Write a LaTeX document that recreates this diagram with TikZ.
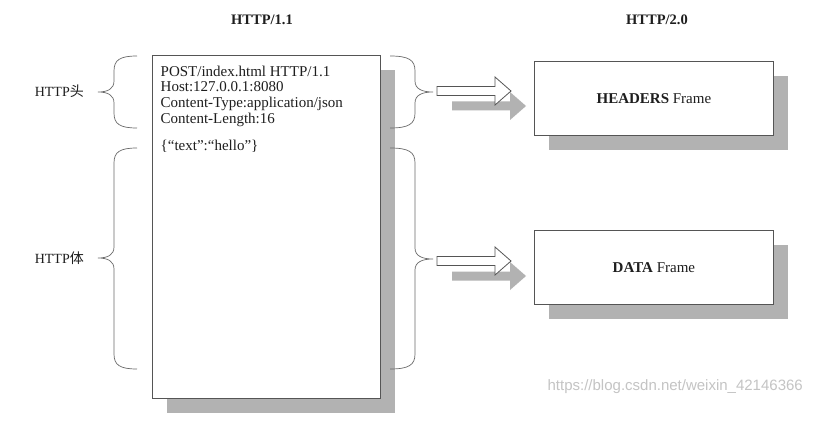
\documentclass[tikz,border=0pt]{standalone}
\usepackage{fontspec}
\setmainfont{Liberation Serif}
\setsansfont{Liberation Sans}
\newfontfamily\cjk{Noto Sans CJK SC}
\usetikzlibrary{shadows}
\definecolor{linec}{HTML}{555555}
\definecolor{bracec}{HTML}{6A6A6A}
\definecolor{shadc}{HTML}{B2B2B2}
\definecolor{txtc}{HTML}{1E1E1E}
\definecolor{wmc}{HTML}{C4C4C4}
% curly brace: #1 end x, #2 vertical x, #3 tip x, #4 top y, #5 tip y, #6 bottom y
\newcommand\BraceShape[6]{%
  \draw[bracestyle] ({#1},{#4}) .. controls ({#2+0.25*(#1-#2)},{#4}) and ({#2},{#4+4}) .. ({#2},{#4+15})
    -- ({#2},{#5-11}) .. controls ({#2},{#5-3}) and ({#2+0.4*(#3-#2)},{#5}) .. ({#3},{#5})
    .. controls ({#2+0.4*(#3-#2)},{#5}) and ({#2},{#5+3}) .. ({#2},{#5+11})
    -- ({#2},{#6-15}) .. controls ({#2},{#6-4}) and ({#2+0.25*(#1-#2)},{#6}) .. ({#1},{#6});}
\begin{document}
\begin{tikzpicture}[x=1pt,y=-1pt,
  framebox/.style={draw=linec, line width=0.8pt, fill=white, inner sep=0pt, anchor=north west,
    text=txtc, font=\fontsize{15}{17}\selectfont,
    drop shadow={shadow xshift=15pt, shadow yshift=-15pt, fill=shadc, opacity=1}},
  harrow/.style={draw=linec, line width=0.8pt, fill=white,
    drop shadow={shadow xshift=15pt, shadow yshift=-15pt, fill=shadc, opacity=1}},
  bracestyle/.style={draw=bracec, line width=0.7pt},
  title/.style={font=\bfseries\fontsize{14.5}{17}\selectfont, text=txtc, anchor=base},
  sidelabel/.style={font=\fontsize{14}{17}\selectfont, text=txtc, anchor=east, inner sep=0pt},
  reqtext/.style={font=\fontsize{15}{15.8}\selectfont, text=txtc, inner sep=0pt, align=left}]
\useasboundingbox[fill=white] (0,0) rectangle (818,422);

% titles
\node[title] (t1) at (262,25) {HTTP/1.1};
\node[title] (t2) at (657,25) {HTTP/2.0};

% request box
\node[framebox, minimum width=228pt, minimum height=343pt] (req) at (152,55) {};
\node[reqtext, anchor=north west] (reqhead) at (160.5,65.5) {POST/index.html HTTP/1.1\\Host:127.0.0.1:8080\\Content-Type:application/json\\Content-Length:16};
\node[reqtext, anchor=base west] (reqbody) at (160.5,151) {\{“text”:“hello”\}};

% frames
\node[framebox, minimum width=239pt, minimum height=74pt] (hdr) at (534,61) {\textbf{HEADERS} Frame};
\node[framebox, minimum width=239pt, minimum height=74pt] (dat) at (534,230) {\textbf{DATA} Frame};

% braces
\BraceShape{137}{114}{98}{56}{92}{128}
\BraceShape{137}{114}{98}{148}{258}{369}
\BraceShape{390}{415}{433}{56}{92}{128}
\BraceShape{390}{415}{433}{148}{259}{369}

% side labels
\node[sidelabel] (lhead) at (84,91) {HTTP{\cjk 头}};
\node[sidelabel] (lbody) at (84,258) {HTTP{\cjk 体}};

% hollow arrows
\coordinate (a1) at (437,91);
\coordinate (a2) at (437,261);
\draw[harrow, shift={(a1)}] (0,-4.5) -- (58,-4.5) -- (58,-14) -- (74,0) -- (58,14) -- (58,4.5) -- (0,4.5) -- cycle;
\draw[harrow, shift={(a2)}] (0,-4.5) -- (58,-4.5) -- (58,-14) -- (74,0) -- (58,14) -- (58,4.5) -- (0,4.5) -- cycle;

% watermark
\node[font=\sffamily\fontsize{15}{17}\selectfont, text=wmc, anchor=base east, inner sep=0pt] (wm) at (803,390) {https://blog.csdn.net/weixin\_42146366};
\end{tikzpicture}
\end{document}
